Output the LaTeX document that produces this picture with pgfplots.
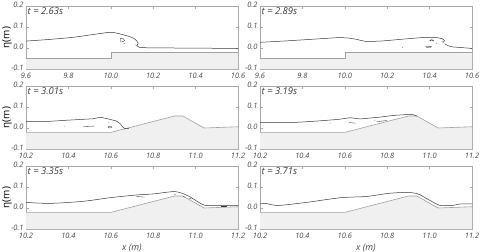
\documentclass[border=0pt]{standalone}
\usepackage{pgfplots}
\pgfplotsset{compat=1.18}
\usepackage{fontspec}
\setmainfont{Open Sans}
\definecolor{frame}{HTML}{A8A8A8}
\definecolor{txt}{HTML}{444444}
\definecolor{surfc}{HTML}{383838}
\definecolor{bathl}{HTML}{A0A0A0}
\definecolor{bathf}{HTML}{F0F0F0}
\pgfplotsset{
  panel/.style={
    scale only axis, width=212bp, height=63bp,
    anchor=south west,
    ymin=-0.1, ymax=0.2, ytick={-0.1,0,0.1,0.2},
    axis line style={frame, line width=0.6pt},
    tick style={frame, line width=0.5pt},
    major tick length=2.5bp,
    tick align=inside,
    /pgf/number format/assume math mode=true,
    /pgf/number format/fixed, /pgf/number format/fixed zerofill,
    /pgf/number format/precision=1,
    tick label style={font=\fontsize{7.5}{8}\selectfont\itshape, text=txt},
    xticklabel style={yshift=-0.5bp},
    yticklabel style={xshift=1bp, yshift=1bp},
    label style={font=\fontsize{9}{10}\selectfont\itshape, text=txt},
    every axis y label/.style={at={(rel axis cs:0,0.5)}, xshift=-19bp, rotate=90, anchor=center},
    xlabel style={yshift=1bp},
    clip=true,
  },
  top/.style={panel, xmin=9.6, xmax=10.6, xtick={9.6,9.8,10.0,10.2,10.4,10.6}},
  low/.style={panel, xmin=10.2, xmax=11.2, xtick={10.2,10.4,10.6,10.8,11.0,11.2}},
  sline/.style={color=surfc, line width=0.5pt},
  bub/.style={color=surfc, line width=0.35pt},
  bfill/.style={fill=bathf, draw=none},
  bline/.style={color=bathl, line width=0.6pt},
}
\newcommand{\ttl}[1]{\node[anchor=north west, inner sep=1.5bp, font=\fontsize{9.5}{10}\selectfont\itshape, text=surfc] at (rel axis cs:0,1) {#1};}
\newcommand{\stepbath}{%
  \addplot[bfill] coordinates {(9.6,-0.1) (9.6,-0.05) (10.0,-0.05) (10.0,-0.02) (10.6,-0.02) (10.6,-0.1)} -- cycle;
  \addplot[bline] coordinates {(9.6,-0.05) (10.0,-0.05) (10.0,-0.02) (10.6,-0.02)};}
\newcommand{\slopebath}{%
  \addplot[bfill] coordinates {(10.2,-0.1) (10.2,-0.021) (10.6,-0.021) (10.90,0.057) (10.94,0.057) (11.04,0.0) (11.2,0.006) (11.2,-0.1)} -- cycle;
  \addplot[bline] coordinates {(10.2,-0.021) (10.6,-0.021) (10.90,0.057) (10.94,0.057) (11.04,0.0) (11.2,0.006)};}
\begin{document}
\begin{tikzpicture}
\path[use as bounding box] (0,0) rectangle (480bp,-252bp);
% Panel 1
\begin{axis}[top, at={(26bp,-69bp)}, ylabel={η(m)}]
\stepbath
\addplot[sline, smooth] coordinates {(9.6,0.033) (9.713,0.041) (9.823,0.051) (9.901,0.062) (9.964,0.071) (10.0,0.075) (10.027,0.071) (10.058,0.063) (10.09,0.054) (10.113,0.043) (10.124,0.032) (10.129,0.021) (10.124,0.012) (10.117,0.015)};
\addplot[sline] coordinates {(10.125,0.010) (10.135,0.003) (10.17,0.001) (10.3,0.0) (10.45,-0.001) (10.6,-0.002)};
\addplot[bub, smooth] coordinates {(10.045,0.028) (10.045,0.045) (10.058,0.045) (10.065,0.036) (10.058,0.030) (10.05,0.033)};
\addplot[bub] coordinates {(10.06,0.02) (10.065,0.021)};
\ttl{t = 2.63s}
\end{axis}
% Panel 2
\begin{axis}[top, at={(260bp,-69bp)}]
\stepbath
\addplot[sline, smooth] coordinates {(9.6,0.027) (9.742,0.035) (9.868,0.043) (9.962,0.049) (10.01,0.048) (10.057,0.041) (10.096,0.032) (10.167,0.033) (10.261,0.041) (10.356,0.049) (10.403,0.051) (10.435,0.049) (10.46,0.044) (10.47,0.036) (10.466,0.028) (10.458,0.030)};
\addplot[sline] coordinates {(10.47,0.020) (10.49,0.010) (10.509,0.005) (10.55,0.002) (10.6,-0.002)};
\addplot[bub] coordinates {(10.27,0.003) (10.275,0.004)};
\addplot[bub, smooth] coordinates {(10.38,0.006) (10.40,0.008) (10.41,0.005) (10.39,0.003) (10.38,0.006)};
\addplot[bub, smooth] coordinates {(10.40,0.035) (10.41,0.040) (10.42,0.034) (10.40,0.035)};
\addplot[bub] coordinates {(10.43,0.022) (10.435,0.024)};
\ttl{t = 2.89s}
\end{axis}
% Panel 3
\begin{axis}[low, at={(26bp,-149bp)}, ylabel={η(m)}]
\slopebath
\addplot[sline] coordinates {(10.2,0.032) (10.282,0.030) (10.392,0.037) (10.517,0.044) (10.54,0.049) (10.552,0.051) (10.575,0.046) (10.596,0.041) (10.627,0.033) (10.646,0.019) (10.655,0.006) (10.666,-0.003) (10.685,-0.002)};
\addplot[bub] coordinates {(10.38,0.008) (10.382,0.009)};
\addplot[bub] coordinates {(10.47,0.007) (10.52,0.009)};
\addplot[bub, smooth] coordinates {(10.585,0.004) (10.595,0.009) (10.605,0.004) (10.595,0.0) (10.585,0.004)};
\addplot[bub] coordinates {(10.59,0.025) (10.592,0.027)};
\ttl{t = 3.01s}
\end{axis}
% Panel 4
\begin{axis}[low, at={(260bp,-149bp)}]
\slopebath
\addplot[sline] coordinates {(10.2,0.027) (10.373,0.027) (10.468,0.033) (10.57,0.041) (10.625,0.049) (10.672,0.043) (10.767,0.052) (10.830,0.060) (10.909,0.065) (10.924,0.063) (10.94,0.057)};
\addplot[bub] coordinates {(10.53,0.022) (10.532,0.024)};
\addplot[bub] coordinates {(10.62,0.026) (10.65,0.023)};
\addplot[bub] coordinates {(10.75,0.030) (10.80,0.036)};
\addplot[bub] coordinates {(10.74,0.036) (10.742,0.038)};
\ttl{t = 3.19s}
\end{axis}
% Panel 5
\begin{axis}[low, at={(26bp,-229bp)}, ylabel={η(m)}, xlabel={x (m)}]
\slopebath
\addplot[sline, smooth] coordinates {(10.2,0.027) (10.313,0.022) (10.47,0.032) (10.596,0.049) (10.721,0.062) (10.8,0.067) (10.894,0.078) (10.933,0.071) (10.972,0.054) (11.01,0.030) (11.043,0.013) (11.098,0.011) (11.2,0.011)};
\addplot[bub] coordinates {(10.72,0.055) (10.76,0.052)};
\addplot[bub] coordinates {(10.9,0.063) (10.905,0.066)};
\addplot[bub] coordinates {(10.94,0.055) (10.95,0.052)};
\addplot[bub] coordinates {(10.97,0.047) (10.98,0.043)};
\addplot[bub] coordinates {(11.12,0.009) (11.15,0.009)};
\ttl{t = 3.35s}
\end{axis}
% Panel 6
\begin{axis}[low, at={(260bp,-229bp)}, xlabel={x (m)}]
\slopebath
\addplot[sline, smooth] coordinates {(10.2,0.019) (10.225,0.022) (10.263,0.014) (10.3,0.013) (10.422,0.027) (10.58,0.049) (10.704,0.055) (10.8,0.069) (10.876,0.074) (10.923,0.072) (10.954,0.063) (11.002,0.036) (11.05,0.012) (11.113,0.013) (11.143,0.019) (11.2,0.020)};
\ttl{t = 3.71s}
\end{axis}
\end{tikzpicture}
\end{document}
